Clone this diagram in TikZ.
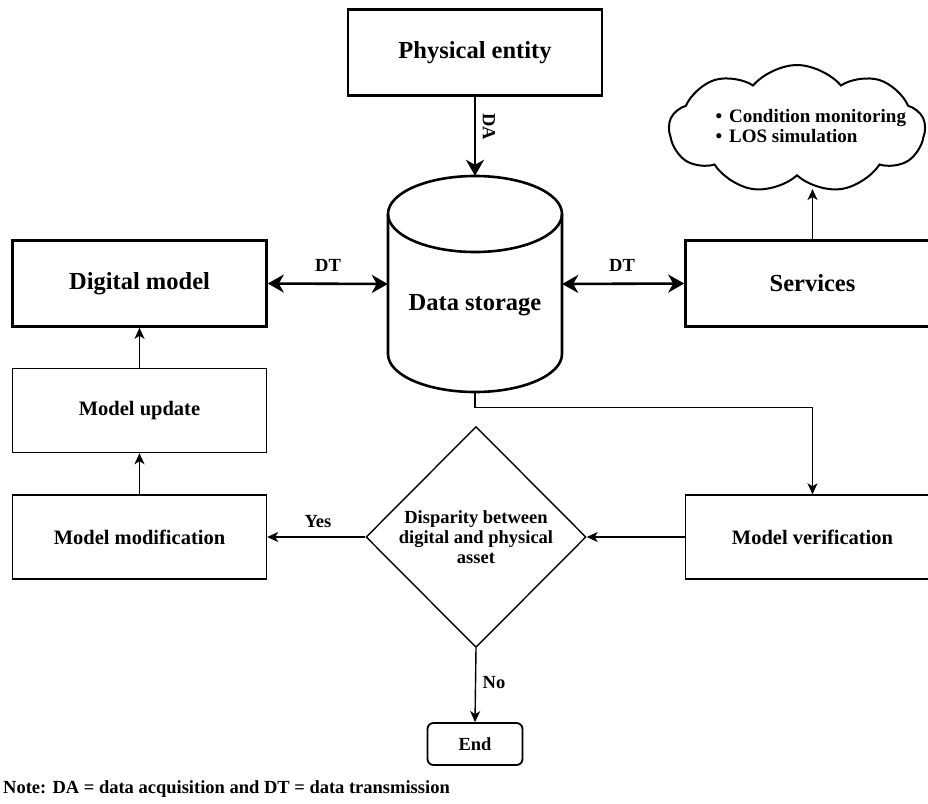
\documentclass[tikz,border=0pt]{standalone}
\usepackage{fontspec}
\setmainfont{Liberation Serif}
\usetikzlibrary{shapes.geometric,shapes.symbols,arrows.meta}
\begin{document}
\begin{tikzpicture}[x=1pt,y=-1pt,
 big/.style={font=\fontsize{24.5}{28}\selectfont\bfseries},
 mid/.style={font=\fontsize{20.5}{24}\selectfont\bfseries},
 small/.style={font=\fontsize{18.5}{20}\selectfont\bfseries},
 thickbox/.style={draw, line width=2.6pt, minimum width=254pt, minimum height=86pt, inner sep=0pt, big},
 thinbox/.style={draw, line width=1.4pt, minimum width=254pt, minimum height=84pt, inner sep=0pt, mid},
 dtarrow/.style={line width=2.6pt, {Stealth[length=16pt,width=18pt,inset=5pt]}-{Stealth[length=16pt,width=18pt,inset=5pt]}},
 daarrow/.style={line width=2.6pt, -{Stealth[length=16pt,width=18pt,inset=5pt]}},
 thinarrow/.style={line width=1.4pt, -{Stealth[length=11pt,width=10pt,inset=3pt]}},
 cylline/.style={line width=2.6pt},
]
\clip (0,0) rectangle (928,803);
\fill[white] (0,0) rectangle (928,803);

% boxes
\node[thickbox] (pe) at (475,52.5) {Physical entity};
\node[thickbox] (dm) at (139.5,283.5) {Digital model};
\node[thickbox] (sv) at (812.5,283.5) {Services};
\node[thinbox] (mu) at (139.5,410.5) {Model update};
\node[thinbox] (mm) at (139.5,537) {Model modification};
\node[thinbox] (mv) at (812.5,537) {Model verification};
\node[diamond, draw, line width=1.4pt, minimum width=220pt, minimum height=221pt, inner sep=0pt, small, align=center] (dis) at (476,537) {Disparity between\\digital and physical\\asset};
\node[draw, rounded corners=6pt, line width=1.8pt, minimum width=95pt, minimum height=42pt, inner sep=0pt, small] (end) at (475,744) {End};

% cylinder (data storage)
\node[minimum width=174pt, minimum height=216pt, inner sep=0pt] (ds) at (475,284) {};
\draw[cylline, fill=white] (388,214) -- (388,354) arc[start angle=180,end angle=360,x radius=87pt,y radius=38pt] -- (562,214);
\draw[cylline] (475,214) ellipse[x radius=87pt, y radius=38pt];
\node[big] (dstext) at (475,305) {Data storage};

% cloud
\node[cloud, draw, line width=2pt, cloud puffs=9, cloud puff arc=100, aspect=2, minimum width=256pt, minimum height=128pt, inner sep=0pt] (cloud) at (797,129) {};
\node[font=\fontsize{19}{20}\selectfont\bfseries, align=left, anchor=west] (ct) at (712,126) {\textbullet\hspace{7pt}Condition monitoring\\\textbullet\hspace{7pt}LOS simulation};
\coordinate (cloudbot) at (812.5,189);

% connectors
\draw[daarrow] (pe.south) -- (ds.north);
\node[small, rotate=-90] (da) at (489,127) {DA};
\draw[dtarrow] (dm.east) -- (ds.west);
\node[small] (dt1) at (328,265) {DT};
\draw[dtarrow] (ds.east) -- (sv.west);
\node[small] (dt2) at (622,265) {DT};
\draw[thinarrow] (sv.north) -- (cloudbot);
\draw[thinarrow] (ds.south) -- ++(0,15) -| (mv.north);
\draw[thinarrow] (mv.west) -- (dis.east);
\draw[thinarrow] (dis.west) -- (mm.east);
\node[small] (yes) at (318,522) {Yes};
\draw[thinarrow] (dis.south) -- (end.north);
\node[small] (no) at (494,683) {No};
\draw[thinarrow] (mm.north) -- (mu.south);
\draw[thinarrow] (mu.north) -- (dm.south);

% note
\node[small, anchor=west, inner sep=0pt] (note) at (3,789) {Note: DA = data acquisition and DT = data transmission};
\end{tikzpicture}
\end{document}
